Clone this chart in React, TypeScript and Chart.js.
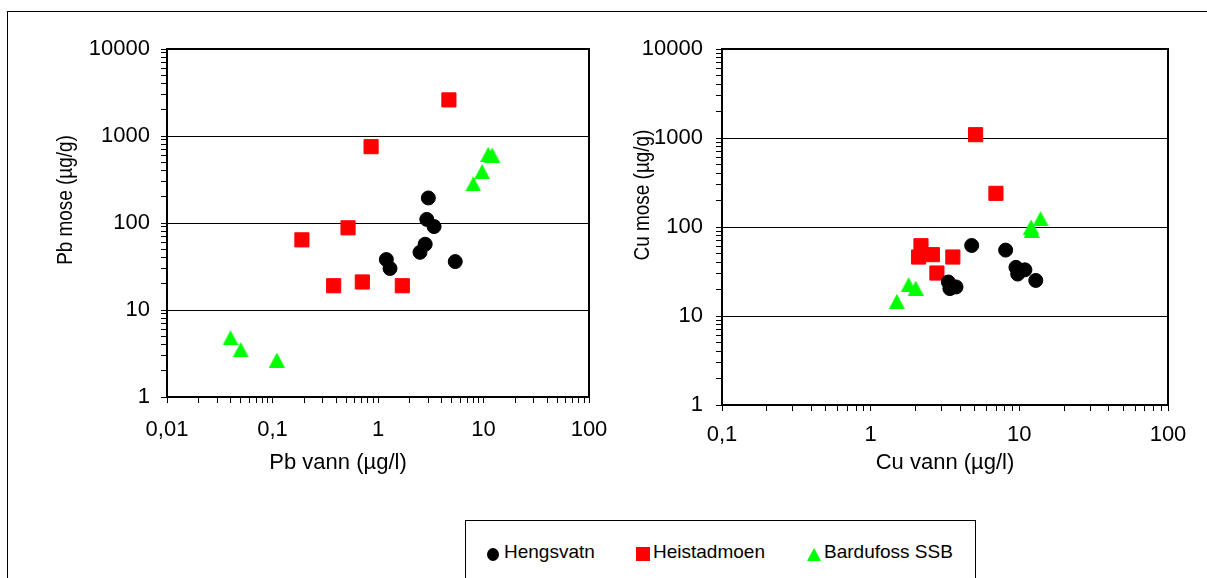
import React, { useEffect, useRef } from "react";
import { Chart, registerables } from "chart.js";

Chart.register(...registerables);

const FONT = "'Liberation Sans', Arial, sans-serif";

const seriesNames = ["Hengsvatn", "Heistadmoen", "Bardufoss SSB"];
const seriesColors = ["#000000", "#FF0000", "#00FF00"];

// Pb: water concentration (µg/l) vs moss concentration (µg/g)
const pbHengsvatnWater = [3.0, 2.9, 3.4, 2.8, 2.5, 1.2, 1.3, 5.4];
const pbHengsvatnMoss = [194, 110, 91, 57, 46, 38, 30, 36];
const pbHeistadWater = [4.7, 0.86, 0.52, 0.19, 0.38, 0.71, 1.7];
const pbHeistadMoss = [2600, 754, 88, 64, 19, 21, 19];
const pbBardufossWater = [0.04, 0.05, 0.11, 8.0, 9.7, 11.1, 12.1];
const pbBardufossMoss = [4.8, 3.5, 2.66, 281, 389, 616, 603];

// Cu: water concentration (µg/l) vs moss concentration (µg/g)
const cuHengsvatnWater = [4.78, 8.09, 9.49, 10.9, 9.75, 12.9, 3.33, 3.41, 3.75];
const cuHengsvatnMoss = [62, 55, 35.2, 33, 29.6, 25.1, 24.1, 20.3, 21.2];
const cuHeistadWater = [5.08, 6.96, 2.18, 2.1, 2.6, 3.57, 2.79];
const cuHeistadMoss = [1089, 239, 61.6, 46, 48.9, 46, 30.4];
const cuBardufossWater = [13.9, 12.0, 12.1, 1.8, 2.01, 1.5];
const cuBardufossMoss = [124, 100, 92, 22.5, 20.6, 14.6];

const pbWaterRange = [0.01, 100];
const cuWaterRange = [0.1, 100];
const mossRange = [1, 10000];

const pairs = (xs: number[], ys: number[]) => xs.map((x, i) => ({ x, y: ys[i] }));

const isDecade = (v: number) => Math.abs(Math.log10(v) - Math.round(Math.log10(v))) < 1e-9;

// 1..9 × 10^n ticks across the whole range
function decadeTicks(min: number, max: number) {
  const out: { value: number }[] = [];
  const e0 = Math.round(Math.log10(min));
  const e1 = Math.round(Math.log10(max));
  for (let e = e0; e < e1; e++) {
    for (let m = 1; m < 10; m++) out.push({ value: m * Math.pow(10, e) });
  }
  out.push({ value: max });
  return out;
}

const formatTick = (v: number) => {
  if (!isDecade(v)) return "";
  return v >= 1 ? String(Math.round(v)) : String(v).replace(".", ",");
};

function triangleImage(color: string) {
  const c = document.createElement("canvas");
  c.width = 16;
  c.height = 15;
  const g = c.getContext("2d")!;
  g.fillStyle = color;
  g.beginPath();
  g.moveTo(8, 0);
  g.lineTo(16, 15);
  g.lineTo(0, 15);
  g.closePath();
  g.fill();
  return c;
}

const framePlugin = {
  id: "frame",
  beforeDatasetsDraw(chart: any) {
    const { ctx, chartArea: a } = chart;
    ctx.save();
    ctx.strokeStyle = "#000";
    ctx.lineWidth = 2;
    ctx.strokeRect(a.left, a.top, a.right - a.left, a.bottom - a.top);
    ctx.restore();
  },
};

const axisTitlePlugin = {
  id: "axisTitles",
  afterDraw(chart: any, _args: any, opts: any) {
    const { ctx, chartArea: a } = chart;
    ctx.save();
    ctx.fillStyle = "#000";
    ctx.textAlign = "center";
    ctx.textBaseline = "middle";
    ctx.font = `${opts.xSize}px ${FONT}`;
    ctx.fillText(opts.xText, (a.left + a.right) / 2 + opts.xShift, a.bottom + opts.xGap);
    ctx.font = `${opts.ySize}px ${FONT}`;
    ctx.translate(opts.yX, (a.top + a.bottom) / 2 + opts.yShift);
    ctx.rotate(-Math.PI / 2);
    // the vertical title runs a little narrower than the horizontal text
    ctx.scale(opts.yCondense, 1);
    ctx.fillText(opts.yText, 0, 0);
    ctx.restore();
  },
};

type PanelSpec = {
  water: number[][];
  moss: number[][];
  xRange: number[];
  yAxisWidth: number;
  xAxisHeight: number;
  padRight: number;
  padTop: number;
  yTickPad: number;
  xTickPad: number;
  titles: any;
};

function buildConfig(spec: PanelSpec): any {
  const tri = triangleImage(seriesColors[2]);
  const styles: any[] = [
    { pointStyle: "circle", pointRadius: 7 },
    { pointStyle: "rect", pointRadius: 10 },
    { pointStyle: tri, pointRadius: 8 },
  ];
  const datasets = seriesNames.map((name, i) => ({
    label: name,
    data: pairs(spec.water[i], spec.moss[i]),
    backgroundColor: seriesColors[i],
    borderColor: seriesColors[i],
    borderWidth: i === 2 ? 0 : 1,
    pointHoverRadius: styles[i].pointRadius,
    ...styles[i],
  }));
  const tickFont = { family: FONT, size: 22 };
  return {
    type: "scatter",
    data: { datasets },
    plugins: [framePlugin, axisTitlePlugin],
    options: {
      animation: false,
      responsive: false,
      layout: { padding: { top: spec.padTop, right: spec.padRight, left: 0, bottom: 0 } },
      plugins: {
        legend: { display: false },
        tooltip: { enabled: false },
        axisTitles: spec.titles,
      },
      scales: {
        x: {
          type: "logarithmic",
          position: "bottom",
          min: spec.xRange[0],
          max: spec.xRange[1],
          afterBuildTicks: (s: any) => {
            s.ticks = decadeTicks(spec.xRange[0], spec.xRange[1]);
          },
          afterFit: (s: any) => {
            s.height = spec.xAxisHeight;
            s.paddingLeft = 0;
            s.paddingRight = 0;
          },
          ticks: {
            autoSkip: false,
            maxRotation: 0,
            minRotation: 0,
            color: "#000",
            font: tickFont,
            padding: spec.xTickPad,
            callback: (v: number) => formatTick(v),
          },
          grid: {
            color: "rgba(0,0,0,0)",
            tickColor: "#000",
            tickLength: 6,
            tickWidth: 1,
          },
          border: { display: false },
        },
        y: {
          type: "logarithmic",
          position: "left",
          min: mossRange[0],
          max: mossRange[1],
          afterBuildTicks: (s: any) => {
            s.ticks = decadeTicks(mossRange[0], mossRange[1]);
          },
          afterFit: (s: any) => {
            s.width = spec.yAxisWidth;
            s.paddingTop = 0;
            s.paddingBottom = 0;
          },
          ticks: {
            autoSkip: false,
            color: "#000",
            font: tickFont,
            padding: spec.yTickPad,
            callback: (v: number) => formatTick(v),
          },
          grid: {
            color: (c: any) => {
              const v = c.tick ? c.tick.value : 0;
              return isDecade(v) && v > mossRange[0] && v < mossRange[1] ? "#000" : "rgba(0,0,0,0)";
            },
            lineWidth: 1,
            tickColor: "#000",
            tickLength: 6,
            tickWidth: 1,
          },
          border: { display: false },
        },
      },
    },
  };
}

function Panel({ spec, left, width, height }: { spec: PanelSpec; left: number; width: number; height: number }) {
  const ref = useRef<HTMLCanvasElement>(null);
  useEffect(() => {
    const chart = new Chart(ref.current!, buildConfig(spec));
    return () => chart.destroy();
  }, []);
  return (
    <canvas
      ref={ref}
      width={width}
      height={height}
      style={{ position: "absolute", left, top: 0, width, height }}
    />
  );
}

const pbSpec: PanelSpec = {
  water: [pbHengsvatnWater, pbHeistadWater, pbBardufossWater],
  moss: [pbHengsvatnMoss, pbHeistadMoss, pbBardufossMoss],
  xRange: pbWaterRange,
  yAxisWidth: 167,
  xAxisHeight: 103,
  padRight: 21,
  padTop: 49,
  yTickPad: 11,
  xTickPad: 14,
  titles: { xSize: 22, ySize: 22, yCondense: 0.86, xText: "Pb vann (µg/l)", xShift: -40, xGap: 66, yText: "Pb mose (µg/g)", yX: 66, yShift: -23 },
};

const cuSpec: PanelSpec = {
  water: [cuHengsvatnWater, cuHeistadWater, cuBardufossWater],
  moss: [cuHengsvatnMoss, cuHeistadMoss, cuBardufossMoss],
  xRange: cuWaterRange,
  yAxisWidth: 112,
  xAxisHeight: 95,
  padRight: 39,
  padTop: 49,
  yTickPad: 13,
  xTickPad: 11,
  titles: { xSize: 22, ySize: 22, yCondense: 0.86, xText: "Cu vann (µg/l)", xShift: 0, xGap: 58, yText: "Cu mose (µg/g)", yX: 33, yShift: -32 },
};

function LegendMarker({ i }: { i: number }) {
  if (i === 0) {
    return <div style={{ position: "absolute", left: 21, top: 27, width: 12, height: 13, borderRadius: "50%", background: seriesColors[0] }} />;
  }
  if (i === 1) {
    return <div style={{ position: "absolute", left: 170, top: 26, width: 14, height: 14, background: seriesColors[1] }} />;
  }
  return (
    <svg style={{ position: "absolute", left: 341, top: 27 }} width={14} height={13}>
      <polygon points="7,0 14,13 0,13" fill={seriesColors[2]} />
    </svg>
  );
}

const legendTextLeft = [38, 187, 358];

export default function App() {
  return (
    <div style={{ position: "absolute", left: 0, top: 0, width: 1207, height: 578, overflow: "hidden", background: "#fff" }}>
      <div style={{ position: "absolute", left: 7, top: 11, width: 1300, height: 700, border: "1px solid #000", boxSizing: "border-box" }} />
      <Panel spec={pbSpec} left={0} width={610} height={500} />
      <Panel spec={cuSpec} left={610} width={597} height={500} />
      <div style={{ position: "absolute", left: 465, top: 520, width: 511, height: 100, border: "1px solid #000", boxSizing: "border-box", background: "#fff" }}>
        {seriesNames.map((name, i) => (
          <React.Fragment key={name}>
            <LegendMarker i={i} />
            <span
              style={{
                position: "absolute",
                left: legendTextLeft[i],
                top: 21,
                fontFamily: FONT,
                fontSize: 19,
                lineHeight: "19px",
                color: "#000",
                whiteSpace: "nowrap",
              }}
            >
              {name}
            </span>
          </React.Fragment>
        ))}
      </div>
    </div>
  );
}
